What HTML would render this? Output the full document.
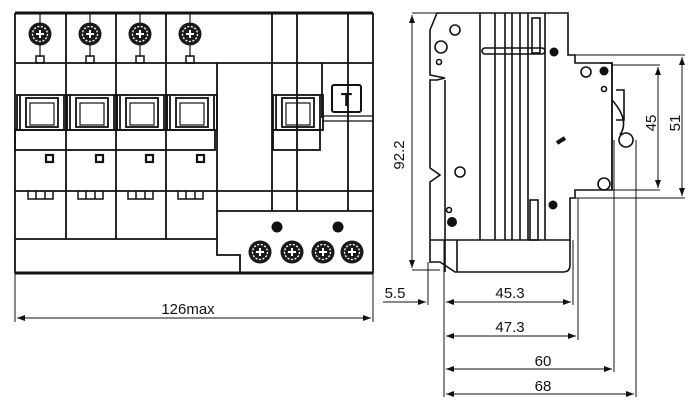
<!DOCTYPE html>
<html><head><style>body{margin:0;background:#fff}svg{display:block}text{font-family:"Liberation Sans",sans-serif;fill:#111}</style></head><body>
<svg width="700" height="405" viewBox="0 0 700 405" xmlns="http://www.w3.org/2000/svg">
<defs>
<g id="scr"><circle r="11.5" fill="#1a1a1a"/><circle r="7.5" fill="none" stroke="#fff" stroke-width="1.3" stroke-dasharray="2 1.6"/><path d="M-4 0H4M0 -4V4" stroke="#fff" stroke-width="2"/></g>
<g id="hdl" fill="none" stroke="#111" stroke-width="1.8"><rect x="0" y="0" width="50" height="35"/><rect x="9" y="3" width="32" height="29"/><rect x="13" y="8" width="24" height="22" stroke-width="1.2"/><path d="M3 0V35M47 0V35"/></g>
<marker id="a" markerWidth="8" markerHeight="6" refX="8" refY="3" orient="auto-start-reverse"><path d="M0 0L8 3L0 6z" fill="#111"/></marker>
</defs>
<g fill="none" stroke="#111" stroke-width="1.8">
<path d="M15 13H373" stroke-width="3"/>
<path d="M15 13V273M373 13V273"/>
<path d="M15 273H373" stroke-width="3"/>
<path d="M15 63H373M15 191H373M15 239H217M217 211H373M217 63V255H240V273"/>
<path d="M66 13V239M116 13V239M166 13V239M272 13V211M297 13V211M348 13V211M322 63V118"/>
<path d="M322 116H373M322 121H373" stroke-width="1.2"/>
<rect x="15" y="130" width="200" height="20"/>
<rect x="273" y="130" width="47" height="20"/>
<rect x="332" y="85" width="29" height="27" rx="2" stroke-width="2"/>
<rect x="46" y="155" width="7" height="7" stroke-width="2.2"/><rect x="96" y="155" width="7" height="7" stroke-width="2.2"/><rect x="146" y="155" width="7" height="7" stroke-width="2.2"/><rect x="197" y="155" width="7" height="7" stroke-width="2.2"/>
<path d="M28 191v8h25v-8M36 191v8M45 191v8M78 191v8h25v-8M86 191v8M95 191v8M128 191v8h25v-8M136 191v8M145 191v8M178 191v8h25v-8M186 191v8M195 191v8" stroke-width="1.5"/>
<path d="M40 13v10M40 45v12M90 13v10M90 45v12M140 13v10M140 45v12M190 13v10M190 45v12" stroke-width="1.2"/>
<rect x="36" y="56" width="8" height="7" stroke-width="1.5"/><rect x="86" y="56" width="8" height="7" stroke-width="1.5"/><rect x="136" y="56" width="8" height="7" stroke-width="1.5"/><rect x="186" y="56" width="8" height="7" stroke-width="1.5"/>
</g>
<use href="#hdl" x="17" y="95"/><use href="#hdl" x="67" y="95"/><use href="#hdl" x="117" y="95"/><use href="#hdl" x="167" y="95"/><use href="#hdl" x="273" y="95"/>
<use href="#scr" x="40" y="34"/><use href="#scr" x="90" y="34"/><use href="#scr" x="140" y="34"/><use href="#scr" x="190" y="34"/>
<use href="#scr" x="260" y="252"/><use href="#scr" x="292" y="252"/><use href="#scr" x="323" y="252"/><use href="#scr" x="352" y="252"/>
<circle cx="277" cy="227" r="5.5" fill="#111"/><circle cx="338" cy="227" r="5.5" fill="#111"/>
<text x="346.5" y="106" font-size="18" font-weight="bold" text-anchor="middle">T</text>
<g stroke="#111" stroke-width="1" fill="none">
<path d="M15 273V322M373 273V322"/>
<path d="M17 318H371" marker-start="url(#a)" marker-end="url(#a)"/>
</g>
<text x="188" y="314" font-size="15" text-anchor="middle">126max</text>

<g fill="none" stroke="#111" stroke-width="1.6">
<path d="M437 13H568V55H575V63H612V190H575V198H570V265Q570 272 563 272H455L440 262H430V182L440 175L430 168V80H437L445 78L430 75V30Z"/>
<path d="M445 80V272M430 240H570M457 240V272M495 13V240M505 13V240M512 13V240M520 13V240M528 13V240M480 13V240M545 13V240"/>
<rect x="532" y="18" width="8" height="35"/><rect x="530" y="200" width="8" height="40"/>
<rect x="482" y="48" width="63" height="6" rx="3"/>
<path d="M612 63V190M600 63H612V125M616 90h8v30h-8"/>
<path d="M612 100Q630 120 620 135" />
<circle cx="455" cy="30" r="5"/><circle cx="441" cy="47" r="6"/><circle cx="439" cy="62" r="2.5"/><circle cx="460" cy="172" r="5"/><circle cx="449" cy="210" r="2.5"/>
<circle cx="586" cy="72" r="5"/><circle cx="604" cy="184" r="6"/><circle cx="604" cy="89" r="2.5"/>
<path d="M557 143l8 -5" stroke-width="4"/>
<circle cx="626" cy="140" r="7"/>
</g>
<circle cx="554" cy="52" r="4.5" fill="#111"/><circle cx="553" cy="205" r="4.5" fill="#111"/><circle cx="452" cy="222" r="5" fill="#111"/><circle cx="604" cy="71" r="4.5" fill="#111"/>
<g stroke="#111" stroke-width="1" fill="none">
<path d="M412 13H437M412 270H440"/>
<path d="M412 15V268" marker-start="url(#a)" marker-end="url(#a)"/>
<path d="M575 55H685M575 198H685M612 65H660M600 190H660"/>
<path d="M682 57V196" marker-start="url(#a)" marker-end="url(#a)"/>
<path d="M658 67V188" marker-start="url(#a)" marker-end="url(#a)"/>
<path d="M428 262V305M444 240V397M573 240V305M578 198V340M614 140V372M636 140V397"/>
<path d="M383 302H426" marker-end="url(#a)"/>
<path d="M446 302H571" marker-start="url(#a)" marker-end="url(#a)"/>
<path d="M446 336H576" marker-start="url(#a)" marker-end="url(#a)"/>
<path d="M446 369H612" marker-start="url(#a)" marker-end="url(#a)"/>
<path d="M446 394H634" marker-start="url(#a)" marker-end="url(#a)"/>
</g>
<g font-size="15">
<text x="404" y="155" text-anchor="middle" transform="rotate(-90 404 155)">92.2</text>
<text x="656" y="123" text-anchor="middle" transform="rotate(-90 656 123)">45</text>
<text x="680" y="123" text-anchor="middle" transform="rotate(-90 680 123)">51</text>
<text x="395" y="298" text-anchor="middle">5.5</text>
<text x="510" y="298" text-anchor="middle">45.3</text>
<text x="510" y="332" text-anchor="middle">47.3</text>
<text x="543" y="366" text-anchor="middle">60</text>
<text x="543" y="391" text-anchor="middle">68</text>
</g>
</svg>
</body></html>
